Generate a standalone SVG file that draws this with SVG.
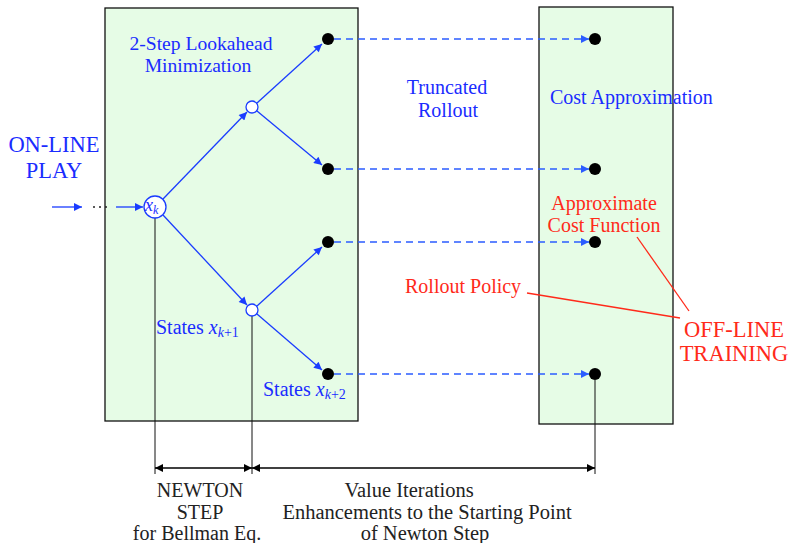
<svg xmlns="http://www.w3.org/2000/svg" width="790" height="543" viewBox="0 0 790 543">
<defs>
<marker id="ab" viewBox="0 0 10 10" refX="10" refY="5" markerWidth="10" markerHeight="8" markerUnits="userSpaceOnUse" orient="auto"><path d="M0,0 L10,5 L0,10 z" fill="#1a3cff"/></marker>
<marker id="ad" viewBox="0 0 10 10" refX="10" refY="5" markerWidth="10" markerHeight="8" markerUnits="userSpaceOnUse" orient="auto"><path d="M0,0 L10,5 L0,10 z" fill="#2b5cff"/></marker>
<marker id="ak" viewBox="0 0 10 10" refX="10" refY="5" markerWidth="10" markerHeight="8" markerUnits="userSpaceOnUse" orient="auto-start-reverse"><path d="M0,0 L10,5 L0,10 z" fill="#000"/></marker>
</defs>
<g id="left-box"><rect fill="#e6fce6" stroke="#111" stroke-width="1.3" x="105" y="8" width="253" height="413"/></g>
<g id="right-box"><rect fill="#e6fce6" stroke="#111" stroke-width="1.3" x="539" y="7" width="134" height="417"/></g>
<g id="connectors">
<g stroke="#1a3cff" stroke-width="1.3" fill="none" marker-end="url(#ab)">
<line x1="52" y1="207" x2="82" y2="207"/>
<line x1="116" y1="207" x2="143" y2="207"/>
<line x1="163" y1="199" x2="247" y2="112"/>
<line x1="163" y1="215" x2="247" y2="305"/>
<line x1="257" y1="103" x2="322" y2="44"/>
<line x1="257" y1="111" x2="322" y2="165"/>
<line x1="257" y1="306" x2="322" y2="247"/>
<line x1="257" y1="314" x2="322" y2="370"/>
</g>
<g fill="#222"><circle cx="94" cy="207" r="1"/><circle cx="100" cy="207" r="1"/><circle cx="106" cy="207" r="1"/></g>
<g stroke="#2b5cff" stroke-width="1.5" fill="none" stroke-dasharray="7,5" marker-end="url(#ad)">
<line x1="334" y1="39" x2="589" y2="39"/>
<line x1="334" y1="169" x2="589" y2="169"/>
<line x1="334" y1="242" x2="589" y2="242"/>
<line x1="334" y1="374" x2="589" y2="374"/>
</g>
<g stroke="#111" stroke-width="1">
<line x1="155" y1="218" x2="155" y2="474"/>
<line x1="252" y1="316" x2="252" y2="474"/>
<line x1="595" y1="380" x2="595" y2="474"/>
</g>
<g stroke="#000" stroke-width="1.5" marker-start="url(#ak)" marker-end="url(#ak)">
<line x1="155" y1="468" x2="252" y2="468"/>
<line x1="252" y1="468" x2="595" y2="468"/>
</g>
<g stroke="#ff2a1a" stroke-width="1.3">
<line x1="527" y1="293" x2="680" y2="318"/>
<line x1="637" y1="237" x2="689" y2="311"/>
</g>
</g>
<g id="xk"><circle fill="#fff" stroke="#1a3cff" stroke-width="1.3" cx="155" cy="207" r="11"/><text x="145" y="211" fill="#1a2cff" font-size="18" font-style="italic" font-family="Liberation Serif">x<tspan font-size="12" dy="3">k</tspan></text></g>
<g id="s1a"><circle fill="#fff" stroke="#1a3cff" stroke-width="1.3" cx="252" cy="107" r="6"/></g>
<g id="s1b"><circle fill="#fff" stroke="#1a3cff" stroke-width="1.3" cx="252" cy="310" r="6"/></g>
<g id="s2a"><circle cx="328" cy="39" r="6"/></g>
<g id="s2b"><circle cx="328" cy="169" r="6"/></g>
<g id="s2c"><circle cx="328" cy="242" r="6"/></g>
<g id="s2d"><circle cx="328" cy="374" r="6"/></g>
<g id="c1"><circle cx="595" cy="39" r="6"/></g>
<g id="c2"><circle cx="595" cy="169" r="6"/></g>
<g id="c3"><circle cx="595" cy="242" r="6"/></g>
<g id="c4"><circle cx="595" cy="374" r="6"/></g>
<g id="labels">
<text x="54" y="152" fill="#1a2cff" font-size="22.5" text-anchor="middle" font-family="Liberation Serif">ON-LINE</text>
<text x="54" y="178" fill="#1a2cff" font-size="22.5" text-anchor="middle" font-family="Liberation Serif">PLAY</text>
<text x="201" y="50" fill="#1a2cff" font-size="19.6" text-anchor="middle" font-family="Liberation Serif">2-Step Lookahead</text>
<text x="198" y="72" fill="#1a2cff" font-size="19.6" text-anchor="middle" font-family="Liberation Serif">Minimization</text>
<text x="447" y="94" fill="#1a2cff" font-size="20" text-anchor="middle" font-family="Liberation Serif">Truncated</text>
<text x="448" y="117" fill="#1a2cff" font-size="20" text-anchor="middle" font-family="Liberation Serif">Rollout</text>
<text x="550" y="104" fill="#1a2cff" font-size="20" font-family="Liberation Serif">Cost Approximation</text>
<text x="604" y="210" fill="#ff2a1a" font-size="20" text-anchor="middle" font-family="Liberation Serif">Approximate</text>
<text x="604" y="232" fill="#ff2a1a" font-size="20" text-anchor="middle" font-family="Liberation Serif">Cost Function</text>
<text x="405" y="293" fill="#ff2a1a" font-size="20" font-family="Liberation Serif">Rollout  Policy</text>
<text x="734" y="337" fill="#ff2a1a" font-size="22.5" text-anchor="middle" font-family="Liberation Serif">OFF-LINE</text>
<text x="734" y="361" fill="#ff2a1a" font-size="22.5" text-anchor="middle" font-family="Liberation Serif">TRAINING</text>
<text x="156" y="334" fill="#1a2cff" font-size="20" font-family="Liberation Serif">States <tspan font-style="italic">x</tspan><tspan font-size="14" dy="3"><tspan font-style="italic">k</tspan>+1</tspan></text>
<text x="263" y="396" fill="#1a2cff" font-size="20" font-family="Liberation Serif">States <tspan font-style="italic">x</tspan><tspan font-size="14" dy="3"><tspan font-style="italic">k</tspan>+2</tspan></text>
<text x="200" y="497" fill="#222" font-size="20" text-anchor="middle" font-family="Liberation Serif">NEWTON</text>
<text x="200" y="519" fill="#222" font-size="20" text-anchor="middle" font-family="Liberation Serif">STEP</text>
<text x="197" y="540" fill="#222" font-size="20" text-anchor="middle" font-family="Liberation Serif">for Bellman Eq.</text>
<text x="409" y="497" fill="#222" font-size="20.5" text-anchor="middle" font-family="Liberation Serif">Value Iterations</text>
<text x="427" y="519" fill="#222" font-size="20.5" text-anchor="middle" font-family="Liberation Serif">Enhancements to the Starting Point</text>
<text x="425" y="540" fill="#222" font-size="20.5" text-anchor="middle" font-family="Liberation Serif">of Newton Step</text>
</g>
</svg>
